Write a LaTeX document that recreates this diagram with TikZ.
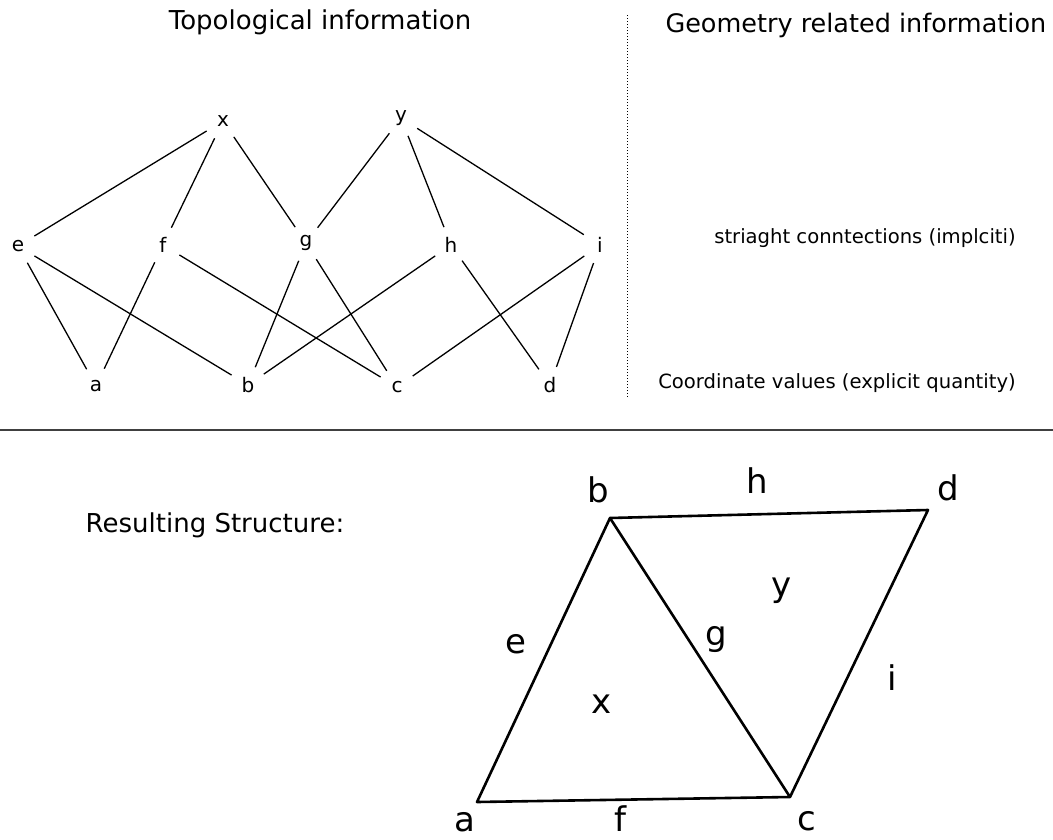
\documentclass[tikz,border=0pt]{standalone}
\usepackage{fontspec}
\setmainfont{DejaVu Sans}
\begin{document}
\begin{tikzpicture}[x=1pt,y=-1pt,
  topnode/.style={circle,inner sep=0pt,minimum size=38pt,font=\fontsize{20}{24}\selectfont},
  link/.style={line width=1.3pt},
  heading/.style={font=\fontsize{26}{30}\selectfont},
  note/.style={font=\fontsize{19.6}{24}\selectfont},
  biglabel/.style={inner sep=0pt,font=\fontsize{34}{40}\selectfont},
  rim/.style={line width=2.6pt,line join=round}]
  \useasboundingbox (0,0) rectangle (1053,839);

  % headings and separators
  \node[heading] (topo) at (320,22) {Topological information};
  \node[heading,anchor=west,font=\fontsize{25.5}{30}\selectfont] (geom) at (662,25) {Geometry related information};
  \coordinate (dtop) at (627,15);
  \coordinate (dbot) at (627,397);
  \draw[dotted,line width=1pt] (dtop) -- (dbot);
  \coordinate (sl) at (0,430);
  \coordinate (sr) at (1053,430);
  \draw[line width=1.6pt,black!75] (sl) -- (sr);

  % topological graph
  \node[topnode] (tx) at (223,121) {x};
  \node[topnode] (ty) at (401,118) {y};

  \node[topnode] (te) at (18,246)  {e};
  \node[topnode] (tf) at (163,245) {f};
  \node[topnode] (tg) at (306,243) {g};
  \node[topnode] (th) at (451,245) {h};
  \node[topnode] (ti) at (600,245) {i};

  \node[topnode] (ta) at (96,386)  {a};
  \node[topnode] (tb) at (248,385) {b};
  \node[topnode] (tc) at (397,387) {c};
  \node[topnode] (td) at (550,385) {d};

  \foreach \u/\v in {x/e,x/f,x/g,y/g,y/h,y/i,
                     e/a,e/b,f/a,f/c,g/b,g/c,h/b,h/d,i/c,i/d}{
    \draw[link] (t\u) -- (t\v);
  }

  % geometry notes
  \node[note] (straight) at (865,238) {striaght conntections (implciti)};
  \node[note] (coords) at (837,383) {Coordinate values (explicit quantity)};

  % resulting structure
  \node[font=\fontsize{26}{30}\selectfont] (result) at (215,525) {Resulting Structure:};

  \coordinate (va) at (477,802);
  \coordinate (vb) at (610,518);
  \coordinate (vc) at (790,797);
  \coordinate (vd) at (928,510);
  \draw[rim] (va) -- (vb) -- (vc) -- cycle;
  \draw[rim] (vb) -- (vd) -- (vc);

  \node[biglabel] (la) at (465,822) {a};
  \node[biglabel] (lb) at (598,490) {b};
  \node[biglabel] (lc) at (807,821) {c};
  \node[biglabel] (ld) at (948,488) {d};
  \node[biglabel] (le) at (516,644) {e};
  \node[biglabel] (lf) at (620,819) {f};
  \node[biglabel] (lg) at (716,640) {g};
  \node[biglabel] (lh) at (757,481) {h};
  \node[biglabel] (li) at (892,678) {i};
  \node[biglabel] (lx) at (602,704) {x};
  \node[biglabel] (ly) at (782,591) {y};
\end{tikzpicture}
\end{document}
